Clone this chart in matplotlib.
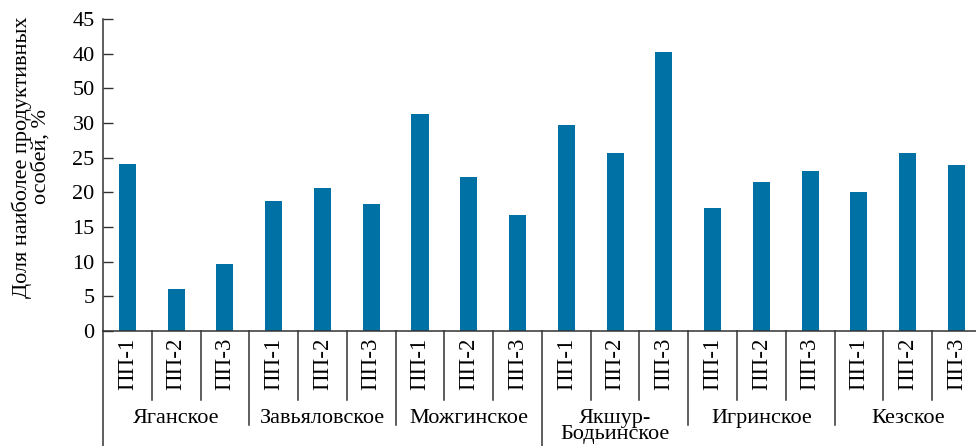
import numpy as np
import matplotlib.pyplot as plt
import matplotlib.transforms as mtransforms

# data
groups = ['Яганское', 'Завьяловское', 'Можгинское', 'Якшур-\nБодьинское', 'Игринское', 'Кезское']
plots = ['ПП-1', 'ПП-2', 'ПП-3']
values = [24.1, 6.1, 9.7,
          18.8, 20.6, 18.3,
          31.3, 22.2, 16.7,
          29.7, 25.7, 40.3,
          17.7, 21.5, 23.1,
          20.1, 25.7, 24.0]
ytick_vals = [0, 5, 10, 15, 20, 25, 30, 35, 40, 45]
ytick_text = ['0', '5', '10', '15', '20', '25', '30', '50', '40', '45']  # as printed in the source

plt.rcParams['font.family'] = ['Liberation Serif', 'DejaVu Serif']
plt.rcParams['font.size'] = 16

fig = plt.figure(figsize=(9.76, 4.46), dpi=100)
ax = fig.add_axes([103/976, 1 - 331/446, 1 - 103/976, (331 - 19)/446])

x = np.arange(len(values))
ax.bar(x, values, width=0.35, color='#0071a4')

ax.set_xlim(-0.5, 17.4)
ax.set_ylim(0, 45)
ax.set_yticks(ytick_vals)
ax.set_yticklabels(ytick_text)
ax.tick_params(axis='y', direction='in', length=7, width=1, color='#333333', pad=6)
ax.set_xticks(x)
ax.set_xticklabels(plots * len(groups), rotation=90, va='top', fontsize=16.5)
ax.tick_params(axis='x', length=0, pad=5)

for s in ['top', 'right']:
    ax.spines[s].set_visible(False)
for s in ['left', 'bottom']:
    ax.spines[s].set_color('#333333')
    ax.spines[s].set_linewidth(1.1)

# extend y-axis down past the category labels
trans = mtransforms.blended_transform_factory(ax.transData, ax.transAxes)
ax.plot([-0.5, -0.5], [0, -0.5], transform=trans, color='#333333', lw=1.1, clip_on=False)

# separators between plots and groups
n = len(plots)
for i in range(len(values) - 1):
    xs = i + 0.5
    if (i + 1) % n != 0:
        bottom = -0.221
    elif '\n' in groups[(i + 1) // n]:
        bottom = -0.5
    else:
        bottom = -0.301
    ax.plot([xs, xs], [0, bottom], transform=trans, color='#333333', lw=1.1, clip_on=False)

for g, name in enumerate(groups):
    ax.text(g * n + 1, -0.25, name, transform=trans, ha='center', va='top',
            linespacing=0.8, clip_on=False)

fig.text(31/976, 1 - 157/446, 'Доля наиболее продуктивных\nособей, %', rotation=90,
         ha='center', va='center', multialignment='center', linespacing=1.0)

fig.savefig('out.png', dpi=100)
